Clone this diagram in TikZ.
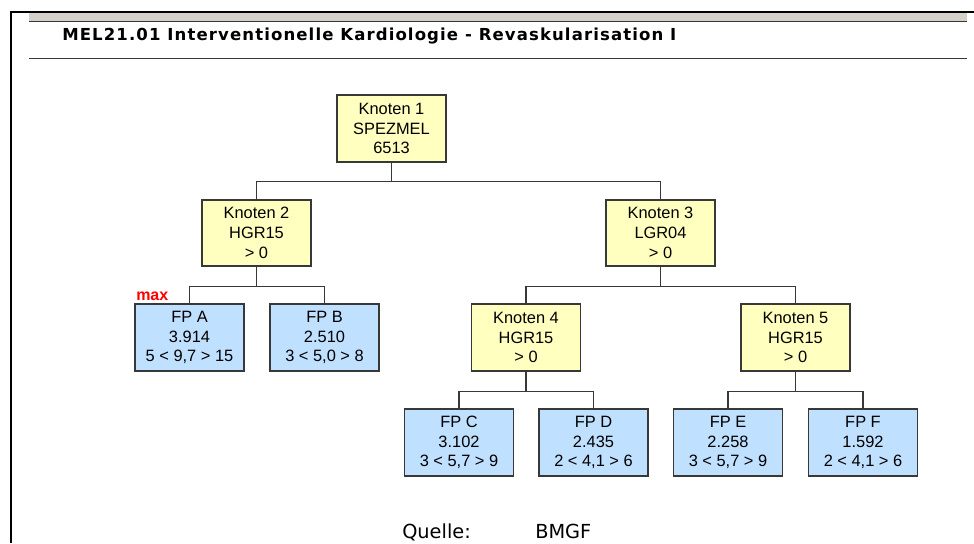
\documentclass[tikz,border=0pt]{standalone}
\usepackage{fontspec}
\setmainfont{Liberation Sans}
\newfontfamily\titlefont[LetterSpace=6.7]{DejaVu Sans}
\newfontfamily\quellefont{DejaVu Sans}

\definecolor{knotgelb}{RGB}{255,255,192}
\definecolor{fpblau}{RGB}{192,224,255}
\definecolor{rahmen}{RGB}{56,56,56}
\definecolor{leiste}{RGB}{212,208,200}

\tikzset{
	knoten/.style={draw=rahmen, line width=1.2pt, fill=knotgelb, minimum width=81.75pt, minimum height=49.9pt, inner sep=0pt, align=center, font=\fontsize{12.3}{14.8}\selectfont},
	fp/.style={knoten, fill=fpblau},
	ast/.style={draw=rahmen, line width=1.2pt},
	schrift/.style={anchor=base west, inner sep=0pt}
}

\begin{document}
\begin{tikzpicture}[x=0.75pt, y=-0.75pt]
		\useasboundingbox (0,0) rectangle (974,543);
		% Rahmen und Titelleiste
		\draw[black, line width=1.1pt] (11,543) -- (11,12) -- (974,12);
		\fill[leiste] (29,13) rectangle (967,21);
		\draw[rahmen, line width=1.1pt] (29,21.5) -- (967,21.5);
		\draw[rahmen, line width=1.3pt] (29,58.5) -- (967,58.5);
		\node[schrift, font={\titlefont\fontsize{12.4}{14}\selectfont\bfseries}] (titel) at (62,40.5) {MEL21.01 Interventionelle Kardiologie - Revaskularisation I};
		% Knoten
		\node[knoten] (k1) at (391.5,128.5) {Knoten 1\\SPEZMEL\\6513};
		\node[knoten] (k2) at (256.5,233) {Knoten 2\\HGR15\\> 0};
		\node[knoten] (k3) at (660.5,233) {Knoten 3\\LGR04\\> 0};
		\node[knoten] (k4) at (526,337.5) {Knoten 4\\HGR15\\> 0};
		\node[knoten] (k5) at (795.5,337.5) {Knoten 5\\HGR15\\> 0};
		% Fallpauschalen
		\node[fp] (fpa) at (189.5,337.5) {FP A\\3.914\\5 < 9,7 > 15};
		\node[fp] (fpb) at (324.5,337.5) {FP B\\2.510\\3 < 5,0 > 8};
		\node[fp] (fpc) at (459,442.5) {FP C\\3.102\\3 < 5,7 > 9};
		\node[fp] (fpd) at (593.5,442.5) {FP D\\2.435\\2 < 4,1 > 6};
		\node[fp] (fpe) at (728,442.5) {FP E\\2.258\\3 < 5,7 > 9};
		\node[fp] (fpf) at (863,442.5) {FP F\\1.592\\2 < 4,1 > 6};
		\node[schrift, text=red, font={\fontsize{12}{14}\selectfont\bfseries}] (max) at (136,300) {max};
		% Verbindungen
		\draw[ast] (k1.south) -- ++(0,19) -| (k2.north);
		\draw[ast] (k1.south) -- ++(0,19) -| (k3.north);
		\draw[ast] (k2.south) -- ++(0,19.5) -| (fpa.north);
		\draw[ast] (k2.south) -- ++(0,19.5) -| (fpb.north);
		\draw[ast] (k3.south) -- ++(0,19.5) -| (k4.north);
		\draw[ast] (k3.south) -- ++(0,19.5) -| (k5.north);
		\draw[ast] (k4.south) -- ++(0,20) -| (fpc.north);
		\draw[ast] (k4.south) -- ++(0,20) -| (fpd.north);
		\draw[ast] (k5.south) -- ++(0,20) -| (fpe.north);
		\draw[ast] (k5.south) -- ++(0,20) -| (fpf.north);
		% Quelle
		\node[schrift, font={\quellefont\fontsize{14.5}{17}\selectfont}] (quelle) at (402,538.5) {Quelle:};
		\node[schrift, font={\quellefont\fontsize{14.5}{17}\selectfont}] (bmgf) at (535,538.5) {BMGF};
	\end{tikzpicture}
\end{document}
